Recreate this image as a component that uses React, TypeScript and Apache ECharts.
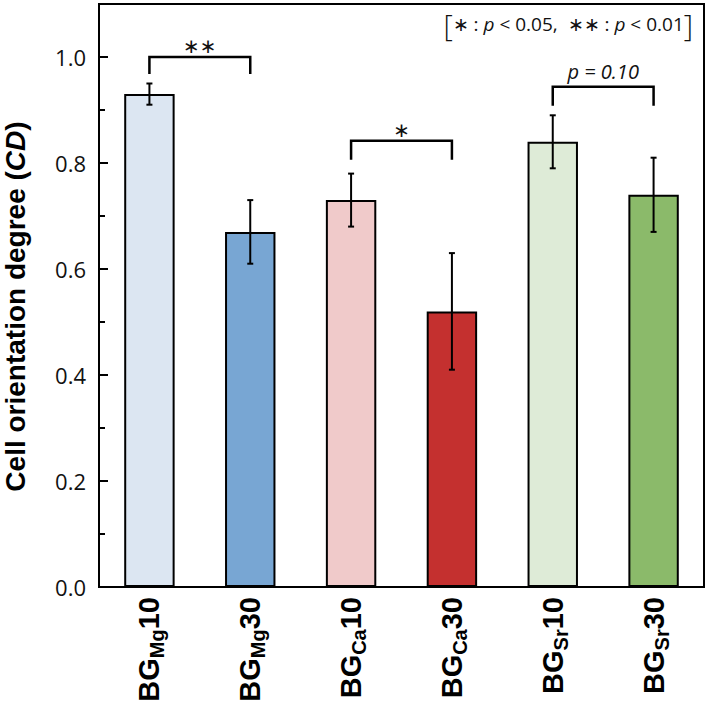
import React, { useEffect, useRef } from 'react';
import * as echarts from 'echarts';

const catMain = ['BG', 'BG', 'BG', 'BG', 'BG', 'BG'];
const catSub = ['Mg', 'Mg', 'Ca', 'Ca', 'Sr', 'Sr'];
const catNum = ['10', '30', '10', '30', '10', '30'];
const categories = catMain.map((m, i) => m + catSub[i] + catNum[i]);
const values = [0.93, 0.67, 0.73, 0.52, 0.84, 0.74];
const errors = [0.02, 0.06, 0.05, 0.11, 0.05, 0.07];
const barColors = ['#dce6f2', '#78a6d3', '#f0caca', '#c4302f', '#deebd7', '#8bba6a'];

const bracketFrom = [0, 2, 4];
const bracketTo = [1, 3, 5];
const bracketTop = [1.0, 0.842, 0.944];
const bracketLeg = [0.968, 0.806, 0.908];
const bracketText = ['\u2217\u2217', '\u2217', 'p = 0.10'];
const bracketItalic = [false, false, true];

const yMin = 0;
const yMax = 1.1;
const yMajor = 0.2;
const yMinor = 0.1;

export default function App() {
  const ref = useRef<HTMLDivElement>(null);
  useEffect(() => {
    if (!ref.current) return;
    const chart = echarts.init(ref.current, null, { renderer: 'svg' });
    const errData = values.map((v, i) => [i, v, errors[i]]);
    const brData = bracketFrom.map((f, i) => [f, bracketTo[i], bracketTop[i], bracketLeg[i]]);
    const option: any = {
      animation: false,
      backgroundColor: '#ffffff',
      grid: {
        left: 99,
        right: 5,
        top: 4,
        bottom: 138,
        outerBoundsMode: 'none',
        containLabel: false,
        show: true,
        borderColor: '#000',
        borderWidth: 2,
        backgroundColor: 'transparent',
      },
      graphic: [
        {
          type: 'text',
          x: 693,
          y: 24,
          style: {
            align: 'right',
            verticalAlign: 'middle',
            text: '{br|[}{t|\u2217 : }{i|p}{t| < 0.05,  \u2217\u2217 : }{i|p}{t| < 0.01}{br|]}',
            rich: {
              br: { fontSize: 29, fontFamily: 'Open Sans', fill: '#111', fontWeight: 300 },
              t: { fontSize: 19, fontFamily: 'Open Sans', fill: '#111' },
              i: { fontSize: 19, fontFamily: 'Open Sans', fontStyle: 'italic', fill: '#111' },
            },
          },
        },
      ],
      xAxis: {
        type: 'category',
        data: categories,
        axisLine: { show: true, lineStyle: { color: '#000', width: 2 } },
        axisTick: { show: false },
        splitLine: { show: false },
        axisLabel: {
          rotate: 90,
          margin: 10,
          interval: 0,
          formatter: (_v: string, i: number) => `{m|${catMain[i]}}{s|${catSub[i]}}{m|${catNum[i]}}`,
          rich: {
            m: { fontSize: 29, fontWeight: 'bold', fontFamily: 'Liberation Sans', color: '#000', lineHeight: 36 },
            s: { fontSize: 20, fontWeight: 'bold', fontFamily: 'Liberation Sans', color: '#000', lineHeight: 19, verticalAlign: 'bottom' },
          },
        },
      },
      yAxis: [
        {
          type: 'value',
          min: yMin,
          max: yMax,
          interval: yMajor,
          axisLine: { show: true, lineStyle: { color: '#000', width: 2 } },
          axisTick: { show: true, inside: true, length: 9, lineStyle: { color: '#000', width: 2 } },
          splitLine: { show: false },
          axisLabel: {
            showMaxLabel: false,
            margin: 13,
            fontSize: 22,
            fontFamily: 'Open Sans',
            color: '#111',
            formatter: (v: number) => v.toFixed(1),
          },
          name: '{b|Cell orientation degree (}{bi|CD}{b|)}',
          nameLocation: 'middle',
          nameGap: 70,
          nameRotate: 90,
          nameTextStyle: {
            padding: [0, 22, 0, 0],
            rich: {
              b: { fontSize: 28, fontWeight: 'bold', fontFamily: 'Liberation Sans', color: '#000' },
              bi: { fontSize: 28, fontWeight: 'bold', fontStyle: 'italic', fontFamily: 'Liberation Sans', color: '#000' },
            },
          },
        },
        {
          type: 'value',
          position: 'left',
          min: yMin,
          max: yMax,
          interval: yMinor,
          axisLine: { show: false },
          axisTick: { show: true, inside: true, length: 6, lineStyle: { color: '#000', width: 2 } },
          axisLabel: { show: false },
          splitLine: { show: false },
        },
      ],
      series: [
        {
          type: 'bar',
          barWidth: '50%',
          data: values.map((v, i) => ({
            value: v,
            itemStyle: { color: barColors[i], borderColor: '#000', borderWidth: 2 },
          })),
        },
        {
          type: 'custom',
          data: errData,
          encode: { x: 0, y: 1 },
          z: 5,
          renderItem: (_params: any, api: any) => {
            const x = api.value(0);
            const v = api.value(1);
            const e = api.value(2);
            const top = api.coord([x, v + e]);
            const bot = api.coord([x, v - e]);
            const cw = 3;
            const st = { stroke: '#000', lineWidth: 2 };
            return {
              type: 'group',
              children: [
                { type: 'line', shape: { x1: top[0], y1: top[1], x2: bot[0], y2: bot[1] }, style: st },
                { type: 'line', shape: { x1: top[0] - cw, y1: top[1], x2: top[0] + cw, y2: top[1] }, style: st },
                { type: 'line', shape: { x1: bot[0] - cw, y1: bot[1], x2: bot[0] + cw, y2: bot[1] }, style: st },
              ],
            };
          },
        },
        {
          type: 'custom',
          data: brData,
          encode: { x: 0, y: 2 },
          z: 6,
          renderItem: (params: any, api: any) => {
            const i = params.dataIndex;
            const l = api.coord([api.value(0), api.value(2)]);
            const r = api.coord([api.value(1), api.value(2)]);
            const lb = api.coord([api.value(0), api.value(3)]);
            const rb = api.coord([api.value(1), api.value(3)]);
            const italic = bracketItalic[i];
            return {
              type: 'group',
              children: [
                {
                  type: 'polyline',
                  shape: { points: [lb, l, r, rb] },
                  style: { stroke: '#000', lineWidth: 2.5, fill: null },
                },
                {
                  type: 'text',
                  x: (l[0] + r[0]) / 2,
                  y: l[1] - (italic ? 5 : 1),
                  style: {
                    text: bracketText[i],
                    align: 'center',
                    verticalAlign: 'bottom',
                    fontSize: 20,
                    fontStyle: italic ? 'italic' : 'normal',
                    fontFamily: italic ? 'Open Sans' : 'DejaVu Sans',
                    fill: '#111',
                  },
                },
              ],
            };
          },
        },
      ],
    };
    chart.setOption(option);
    return () => chart.dispose();
  }, []);
  return <div ref={ref} style={{ position: 'absolute', left: 0, top: 0, width: 709, height: 725 }} />;
}
